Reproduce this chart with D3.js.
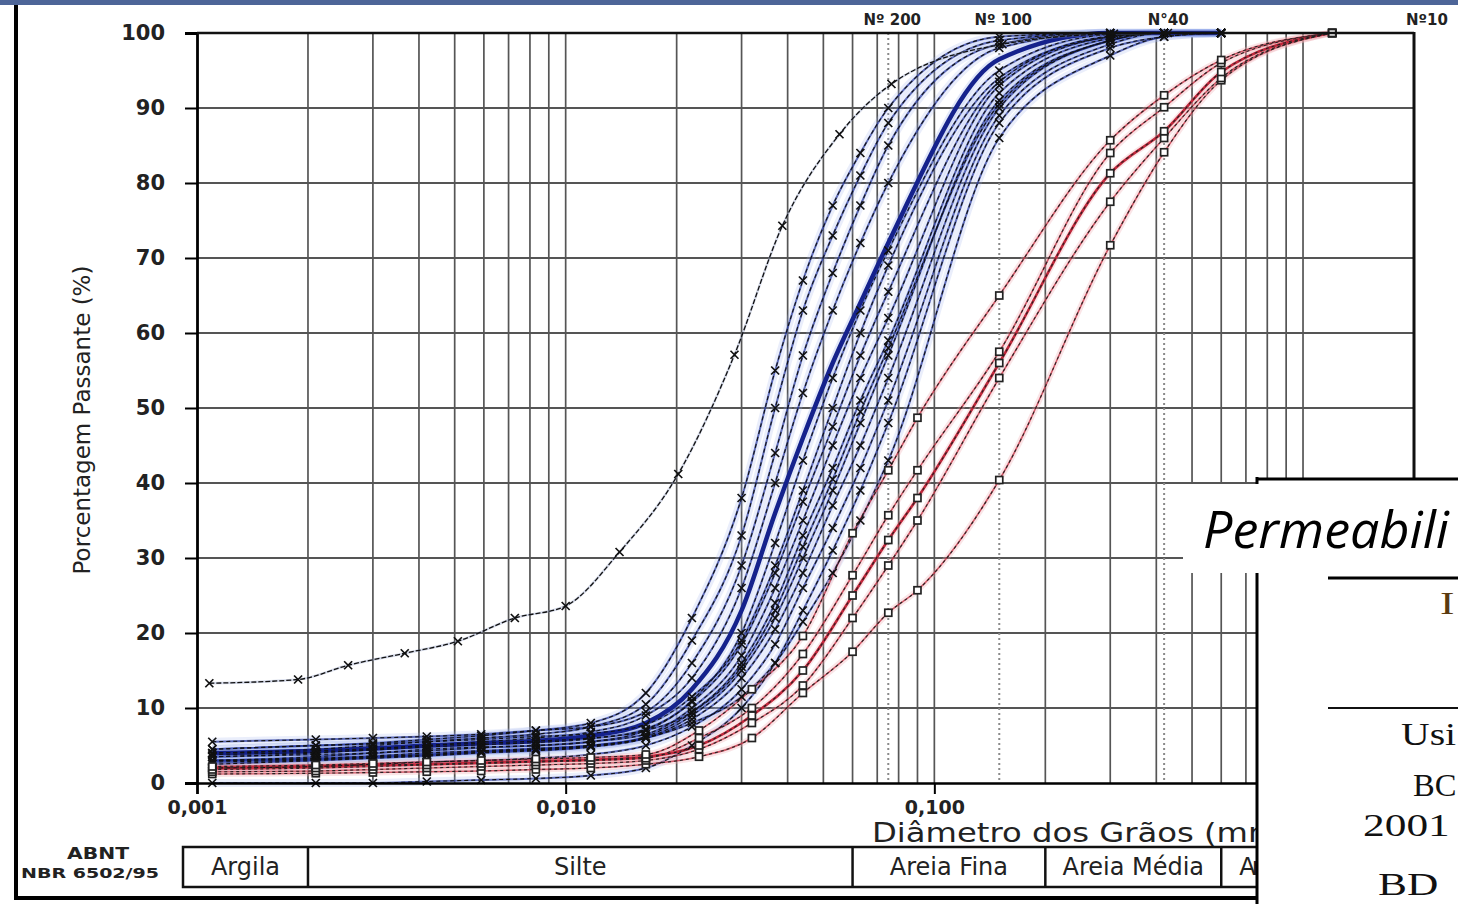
<!DOCTYPE html>
<html>
<head>
<meta charset="utf-8">
<script src="https://cdn.jsdelivr.net/npm/d3@7"></script>
<style>
  html, body { margin: 0; padding: 0; background: #fff; overflow: hidden; }
  svg { display: block; }
</style>
</head>
<body>
<svg id="chart" width="1458" height="904"></svg>
<script>
// ---- axis / label data ----
const yTicks = [0, 10, 20, 30, 40, 50, 60, 70, 80, 90, 100];
const xTickValues = [0.001, 0.01, 0.1];
const xTickLabels = ["0,001", "0,010", "0,100"];
const sieveSizes = [0.075, 0.15, 0.42, 2.0];
const sieveLabels = ["Nº 200", "Nº 100", "N°40", "Nº10"];
const classNames = ["Argila", "Silte", "Areia Fina", "Areia Média", "Areia Grossa"];
const classLimits = [0.002, 0.06, 0.2, 0.6];

// ---- sample with high clay content (black) ----
const diamA = [0.00108, 0.00188, 0.00257, 0.00366, 0.0051, 0.00728, 0.010, 0.014, 0.0202, 0.0287, 0.0387, 0.0553, 0.0765, 0.153, 0.307, 0.43, 0.6];
const passA = [13.3, 13.8, 15.7, 17.3, 18.9, 22.0, 23.6, 30.8, 41.2, 57.1, 74.3, 86.5, 93.2, 98.5, 99.9, 100, 100];

// ---- silty samples (blue) ----
const diamBlue = [0.0011, 0.0021, 0.003, 0.0042, 0.0059, 0.0083, 0.0117, 0.0165, 0.022, 0.030, 0.037, 0.044, 0.053, 0.063, 0.075, 0.15, 0.30, 0.42, 0.6];
const blue01 = [4.5, 5.0, 5.3, 5.8, 6.3, 7.0, 8.0, 12.0, 22.0, 38.0, 55.0, 67.0, 77.0, 84.0, 90.0, 99.5, 100, 100, 100];
const blue02 = [4.0, 4.5, 5.0, 5.5, 6.0, 6.5, 7.5, 10.5, 19.0, 33.0, 50.0, 63.0, 73.0, 81.0, 88.0, 99.0, 100, 100, 100];
const blue03 = [5.5, 5.8, 6.0, 6.2, 6.5, 7.0, 7.5, 9.5, 16.0, 29.0, 44.0, 57.0, 68.0, 77.0, 85.0, 98.5, 100, 100, 100];
const blue04 = [3.5, 4.0, 4.5, 5.0, 5.5, 6.0, 6.8, 9.0, 14.0, 26.0, 40.0, 52.0, 63.0, 72.0, 80.0, 98.0, 100, 100, 100];
const blue05 = [4.0, 4.3, 4.6, 5.0, 5.3, 5.6, 6.3, 8.0, 12.5, 23.0, 36.0, 46.0, 56.0, 64.0, 72.0, 96.5, 100, 100, 100];
const blue06 = [3.0, 3.5, 4.0, 4.3, 4.7, 5.0, 5.5, 7.0, 11.0, 20.0, 32.0, 43.0, 54.0, 63.0, 71.0, 95.0, 99.8, 100, 100];
const blue07 = [4.5, 5.0, 5.2, 5.5, 5.8, 6.2, 6.6, 7.8, 11.5, 19.0, 29.0, 39.0, 50.0, 60.0, 69.0, 94.0, 99.5, 100, 100];
const blue08 = [3.5, 3.8, 4.0, 4.5, 4.8, 5.0, 5.5, 6.5, 10.0, 17.0, 26.0, 35.0, 45.0, 54.0, 62.0, 93.0, 99.5, 100, 100];
const blue09 = [4.0, 4.3, 4.6, 5.0, 5.3, 5.6, 6.0, 7.0, 9.5, 16.0, 24.0, 33.0, 42.0, 51.0, 59.0, 92.0, 99.3, 100, 100];
const blue10 = [2.5, 3.0, 3.3, 3.6, 4.0, 4.3, 4.8, 6.0, 9.0, 15.0, 22.0, 30.0, 39.0, 48.0, 57.0, 91.0, 99.0, 100, 100];
const blue11 = [3.0, 3.2, 3.5, 3.8, 4.2, 4.5, 5.0, 6.0, 8.5, 14.0, 20.5, 28.0, 37.0, 45.0, 54.0, 90.0, 99.0, 100, 100];
const blue12 = [2.0, 2.2, 2.5, 2.8, 3.0, 3.3, 3.8, 5.0, 7.5, 12.5, 18.5, 26.0, 34.0, 42.0, 51.0, 89.0, 98.5, 100, 100];
const blue13 = [0.0, 0.0, 0.0, 0.2, 0.4, 0.6, 1.0, 2.0, 5.0, 10.0, 16.0, 23.0, 31.0, 39.0, 48.0, 88.0, 98.0, 99.5, 100];
const blue14 = [3.0, 3.3, 3.6, 4.0, 4.3, 4.6, 5.0, 6.0, 8.0, 11.5, 16.0, 21.5, 28.0, 35.0, 43.0, 86.0, 97.0, 99.5, 100];
const blue15 = [3.8, 4.1, 4.4, 4.8, 5.1, 5.4, 5.9, 7.2, 10.8, 18.5, 28.0, 37.5, 47.5, 57.0, 65.5, 93.5, 99.6, 100, 100];
const blue16 = [2.8, 3.1, 3.4, 3.7, 4.1, 4.4, 4.9, 6.2, 9.4, 15.5, 23.0, 31.5, 40.5, 49.5, 58.0, 90.5, 99.0, 100, 100];

// ---- sandy samples (red) ----
const diamRed = [0.0011, 0.0021, 0.003, 0.0042, 0.0059, 0.0083, 0.0117, 0.0165, 0.023, 0.032, 0.044, 0.060, 0.075, 0.090, 0.15, 0.30, 0.42, 0.6, 1.2];
const red01 = [2.2, 2.4, 2.6, 2.8, 3.0, 3.2, 3.4, 3.8, 7.0, 12.5, 19.6, 33.3, 41.7, 48.7, 65.0, 85.7, 91.7, 96.4, 100];
const red02 = [1.8, 2.0, 2.2, 2.4, 2.6, 2.8, 3.0, 3.3, 6.0, 10.0, 17.2, 27.7, 35.7, 41.7, 57.5, 84.0, 90.1, 96.0, 100];
const red03 = [2.0, 2.2, 2.4, 2.5, 2.7, 2.9, 3.1, 3.5, 5.0, 9.0, 15.0, 25.0, 32.4, 38.0, 56.0, 81.3, 86.9, 94.8, 100];
const red04 = [1.5, 1.6, 1.8, 2.0, 2.2, 2.4, 2.6, 3.0, 4.5, 8.0, 13.0, 22.0, 29.0, 35.0, 54.0, 77.5, 86.0, 94.0, 100];
const red05 = [1.2, 1.3, 1.4, 1.5, 1.6, 1.8, 2.0, 2.5, 3.5, 6.0, 12.0, 17.5, 22.7, 25.7, 40.4, 71.7, 84.1, 93.7, 100];

const blueSamples = [blue14, blue13, blue12, blue11, blue16, blue10, blue09, blue08, blue15, blue07, blue06, blue04, blue03, blue02, blue01];
const redSamples = [red05, red04, red03, red02, red01];

// ---- drawing ----
const svg = d3.select("#chart");
const W = 1458, H = 904;
const insetLeft = 1256, insetTop = 478;

const x = d3.scaleLog().domain([0.001, 2]).range([197, 1414]);
const y = d3.scaleLinear().domain([0, 100]).range([783, 33]);

// the lower strip is cut by the inset panel on the right
svg.append("defs").append("clipPath").attr("id", "lowerClip")
  .append("rect").attr("x", 0).attr("y", 0).attr("width", insetLeft).attr("height", H);

// top banner strip
svg.append("rect").attr("x", 0).attr("y", 0).attr("width", W).attr("height", 5).attr("fill", "#4d6598");

// grid
const grid = svg.append("g");
grid.selectAll("line.v").data(x.ticks().filter(d => d > 0.001 && d < 2))
  .join("line")
  .attr("x1", d => x(d)).attr("x2", d => x(d))
  .attr("y1", y(100)).attr("y2", y(0))
  .attr("stroke", "#555").attr("stroke-width", 1.7);
grid.selectAll("line.h").data(yTicks.filter(d => d > 0 && d < 100))
  .join("line")
  .attr("x1", x(0.001)).attr("x2", x(2))
  .attr("y1", d => y(d)).attr("y2", d => y(d))
  .attr("stroke", "#555").attr("stroke-width", 1.9);

// sieve reference lines
grid.selectAll("line.s").data(sieveSizes.slice(0, 3))
  .join("line")
  .attr("x1", d => x(d)).attr("x2", d => x(d))
  .attr("y1", y(100)).attr("y2", y(0))
  .attr("stroke", "#8a8a8a").attr("stroke-width", 2).attr("stroke-dasharray", "2,3");

svg.append("g").selectAll("text").data(sieveSizes)
  .join("text")
  .attr("x", (d, i) => i === 3 ? x(d) - 8 : x(d) + 4)
  .attr("y", 25)
  .attr("text-anchor", (d, i) => i === 3 ? "start" : "middle")
  .attr("font-family", "DejaVu Sans").attr("font-weight", "bold").attr("font-size", 15)
  .attr("fill", "#222")
  .text((d, i) => sieveLabels[i]);

// curves
const line = d3.line().curve(d3.curveMonotoneX);
const pts = (diam, vals) => diam.map((d, i) => [x(d), y(vals[i])]);

const curves = svg.append("g");

// blue family
blueSamples.forEach(v => {
  curves.append("path").attr("d", line(pts(diamBlue, v))).attr("fill", "none")
    .attr("stroke", "#9fb3ec").attr("stroke-width", 8).attr("stroke-opacity", 0.22);
});
blueSamples.forEach(v => {
  curves.append("path").attr("d", line(pts(diamBlue, v))).attr("fill", "none")
    .attr("stroke", "#22349e").attr("stroke-width", 2).attr("stroke-opacity", 0.7);
});
// heavier reference curve
curves.append("path").attr("d", line(pts(diamBlue, blue05))).attr("fill", "none")
  .attr("stroke", "#9fb3ec").attr("stroke-width", 9).attr("stroke-opacity", 0.3);
curves.append("path").attr("d", line(pts(diamBlue, blue05))).attr("fill", "none")
  .attr("stroke", "#15228c").attr("stroke-width", 4.5);

// red family
redSamples.forEach(v => {
  curves.append("path").attr("d", line(pts(diamRed, v))).attr("fill", "none")
    .attr("stroke", "#f0a8ae").attr("stroke-width", 6).attr("stroke-opacity", 0.3);
  curves.append("path").attr("d", line(pts(diamRed, v))).attr("fill", "none")
    .attr("stroke", "#c2283c").attr("stroke-width", 1.6).attr("stroke-opacity", 0.75);
});
curves.append("path").attr("d", line(pts(diamRed, red03))).attr("fill", "none")
  .attr("stroke", "#c2283c").attr("stroke-width", 2.6);

// dashed overlays
blueSamples.forEach(v => {
  curves.append("path").attr("d", line(pts(diamBlue, v))).attr("fill", "none")
    .attr("stroke", "#111").attr("stroke-width", 1.1).attr("stroke-dasharray", "4,3");
});
redSamples.forEach(v => {
  curves.append("path").attr("d", line(pts(diamRed, v))).attr("fill", "none")
    .attr("stroke", "#222").attr("stroke-width", 1.1).attr("stroke-dasharray", "3,3");
});
curves.append("path").attr("d", line(pts(diamA, passA))).attr("fill", "none")
  .attr("stroke", "#8894c0").attr("stroke-width", 2.5).attr("stroke-opacity", 0.35);
curves.append("path").attr("d", line(pts(diamA, passA))).attr("fill", "none")
  .attr("stroke", "#111").attr("stroke-width", 1.3).attr("stroke-dasharray", "5,2");

// markers
const xMark = "M-4,-4L4,4M-4,4L4,-4";
const markers = svg.append("g");
const addX = (diam, vals) => {
  markers.append("g").selectAll("path").data(pts(diam, vals)).join("path")
    .attr("transform", d => `translate(${d[0]},${d[1]})`)
    .attr("d", xMark).attr("stroke", "#111").attr("stroke-width", 1.7).attr("fill", "none");
};
blueSamples.forEach(v => addX(diamBlue, v));
addX(diamA, passA);
redSamples.forEach(v => {
  markers.append("g").selectAll("rect").data(pts(diamRed, v)).join("rect")
    .attr("x", d => d[0] - 3.5).attr("y", d => d[1] - 3.5)
    .attr("width", 7).attr("height", 7)
    .attr("fill", "#fff").attr("stroke", "#222").attr("stroke-width", 1.7);
});

// axes
const yAxis = svg.append("g").attr("transform", `translate(${x(0.001)},0)`)
  .call(d3.axisLeft(y).tickValues(yTicks).tickSize(12).tickPadding(20).tickFormat(d => d));
yAxis.select(".domain").attr("stroke", "#000").attr("stroke-width", 2.8);
yAxis.selectAll(".tick line").attr("stroke", "#000").attr("stroke-width", 2);
yAxis.selectAll(".tick text").attr("font-family", "DejaVu Sans").attr("font-weight", "bold")
  .attr("font-size", 21).attr("fill", "#222");

const xAxis = svg.append("g").attr("transform", `translate(0,${y(0)})`)
  .call(d3.axisBottom(x).tickValues(xTickValues).tickSize(11).tickPadding(7)
    .tickFormat((d, i) => xTickLabels[i]));
xAxis.select(".domain").attr("stroke", "#000").attr("stroke-width", 2.6);
xAxis.selectAll(".tick line").attr("stroke", "#000").attr("stroke-width", 2);
xAxis.selectAll(".tick text").attr("font-family", "DejaVu Sans").attr("font-weight", "bold")
  .attr("font-size", 19).attr("fill", "#222");

// plot frame: top and right edges
svg.append("line").attr("x1", x(0.001)).attr("x2", x(2)).attr("y1", y(100)).attr("y2", y(100))
  .attr("stroke", "#111").attr("stroke-width", 2.6);
svg.append("line").attr("x1", x(2)).attr("x2", x(2)).attr("y1", y(100) - 1).attr("y2", y(0))
  .attr("stroke", "#111").attr("stroke-width", 3);

// axis titles
svg.append("text")
  .attr("transform", "translate(90,420) rotate(-90)")
  .attr("text-anchor", "middle")
  .attr("font-family", "DejaVu Sans").attr("font-size", 23).attr("fill", "#222")
  .text("Porcentagem Passante (%)");

const lower = svg.append("g").attr("clip-path", "url(#lowerClip)");
lower.append("text")
  .attr("x", 872).attr("y", 842)
  .attr("font-family", "DejaVu Sans").attr("font-size", 27).attr("fill", "#222")
  .attr("textLength", 420).attr("lengthAdjust", "spacingAndGlyphs")
  .text("Diâmetro dos Grãos (mm)");

// soil classification band (ABNT NBR 6502/95)
const bandTop = 847, bandBottom = 887, bandLeft = 183;
const edges = [bandLeft, ...classLimits.map(d => x(d)), x(2)];
const band = lower.append("g");
band.append("rect").attr("x", bandLeft).attr("y", bandTop)
  .attr("width", x(2) - bandLeft).attr("height", bandBottom - bandTop)
  .attr("fill", "#fff").attr("stroke", "#111").attr("stroke-width", 2.5);
band.selectAll("line").data(classLimits).join("line")
  .attr("x1", d => x(d)).attr("x2", d => x(d)).attr("y1", bandTop).attr("y2", bandBottom)
  .attr("stroke", "#111").attr("stroke-width", 2.5);
band.selectAll("text").data(classNames.slice(0, 4)).join("text")
  .attr("x", (d, i) => (edges[i] + edges[i + 1]) / 2)
  .attr("y", 875)
  .attr("text-anchor", "middle")
  .attr("font-family", "DejaVu Sans").attr("font-size", 24).attr("fill", "#222")
  .text(d => d);
// last class label runs under the inset panel; kept tight so it stays in its cell
band.append("text")
  .attr("x", edges[4] + 18).attr("y", 875)
  .attr("font-family", "DejaVu Sans").attr("font-size", 24).attr("fill", "#222")
  .attr("textLength", 110).attr("lengthAdjust", "spacing")
  .text(classNames[4]);

svg.append("text").attr("x", 98).attr("y", 859).attr("text-anchor", "middle")
  .attr("font-family", "DejaVu Sans").attr("font-weight", "bold").attr("font-size", 15).attr("fill", "#222")
  .attr("textLength", 62).attr("lengthAdjust", "spacingAndGlyphs")
  .text("ABNT");
svg.append("text").attr("x", 90).attr("y", 878).attr("text-anchor", "middle")
  .attr("font-family", "DejaVu Sans").attr("font-weight", "bold").attr("font-size", 14).attr("fill", "#222")
  .attr("textLength", 138).attr("lengthAdjust", "spacingAndGlyphs")
  .text("NBR 6502/95");

// outer frame
svg.append("line").attr("x1", 16).attr("x2", 16).attr("y1", 5).attr("y2", 900)
  .attr("stroke", "#000").attr("stroke-width", 4);
svg.append("line").attr("x1", 14).attr("x2", insetLeft + 1).attr("y1", 898).attr("y2", 898)
  .attr("stroke", "#000").attr("stroke-width", 4);

// inset panel at lower right
const inset = svg.append("g");
inset.append("rect").attr("x", insetLeft).attr("y", insetTop).attr("width", W - insetLeft).attr("height", H - insetTop).attr("fill", "#fff");
inset.append("line").attr("x1", insetLeft + 1).attr("x2", insetLeft + 1).attr("y1", insetTop - 1).attr("y2", H)
  .attr("stroke", "#000").attr("stroke-width", 3);
inset.append("line").attr("x1", insetLeft).attr("x2", W).attr("y1", insetTop + 1).attr("y2", insetTop + 1)
  .attr("stroke", "#000").attr("stroke-width", 3);
inset.append("rect").attr("x", 1183).attr("y", 484).attr("width", W - 1183).attr("height", 89).attr("fill", "#fff");
inset.append("text").attr("x", 1203).attr("y", 548)
  .attr("font-family", "Open Sans").attr("font-style", "italic").attr("font-size", 52).attr("fill", "#000")
  .text("Permeabili");
inset.append("line").attr("x1", 1328).attr("x2", W).attr("y1", 578).attr("y2", 578)
  .attr("stroke", "#000").attr("stroke-width", 3);
inset.append("line").attr("x1", 1328).attr("x2", W).attr("y1", 708).attr("y2", 708)
  .attr("stroke", "#111").attr("stroke-width", 2);

const insetText = [
  { t: "I", x: 1440, y: 614, c: "#5a3a10", s: 1.4 },
  { t: "Usi", x: 1401, y: 745, c: "#111", s: 1.28 },
  { t: "BC", x: 1413, y: 796, c: "#111", s: 1.05 },
  { t: "2001", x: 1363, y: 836, c: "#111", s: 1.4 },
  { t: "BD", x: 1378, y: 895, c: "#111", s: 1.4 }
];
inset.selectAll("text.t").data(insetText).join("text")
  .attr("transform", d => `translate(${d.x},${d.y}) scale(${d.s},1)`)
  .attr("font-family", "Liberation Serif").attr("font-size", 31).attr("fill", d => d.c)
  .text(d => d.t);
</script>
</body>
</html>
